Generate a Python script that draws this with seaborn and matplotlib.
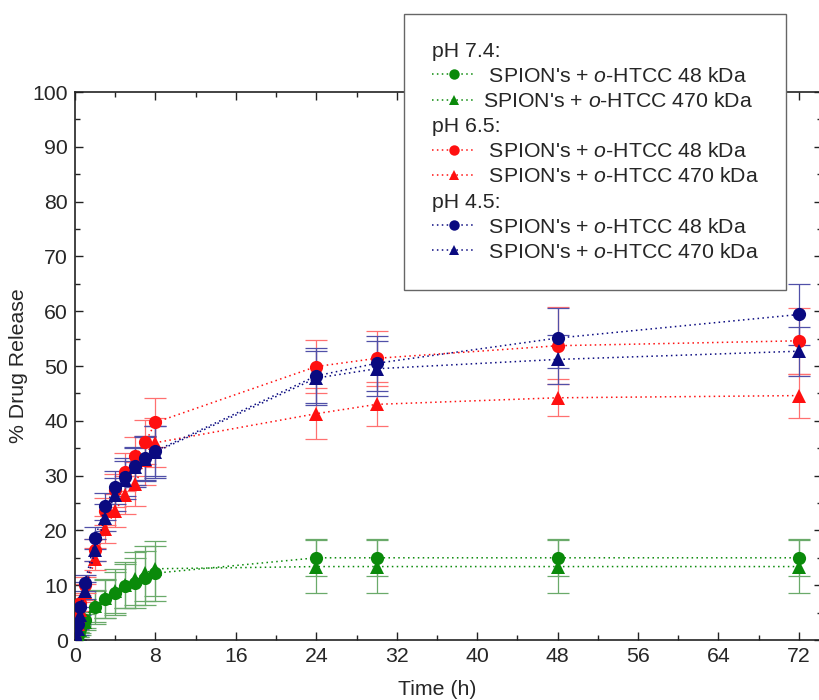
import matplotlib
matplotlib.use("Agg")
import matplotlib.pyplot as plt
import seaborn as sns
import pandas as pd
from matplotlib.lines import Line2D
from matplotlib.ticker import MultipleLocator

# ---------------- data ----------------
time_h = [0, 0.25, 0.5, 1, 2, 3, 4, 5, 6, 7, 8, 24, 30, 48, 72]

ph74_48 = [0, 1.0, 2.0, 3.6, 6.0, 7.5, 8.5, 9.8, 10.4, 11.3, 12.2, 15.0, 15.0, 15.0, 15.0]
ph74_470 = [0, 1.0, 1.8, 3.3, 6.2, 7.6, 9.0, 10.0, 11.2, 12.2, 13.0, 13.4, 13.4, 13.4, 13.4]
ph65_48 = [0, 3.5, 6.8, 10.0, 16.5, 23.5, 27.3, 30.7, 33.5, 36.1, 39.7, 49.9, 51.4, 53.7, 54.6]
ph65_470 = [0, 3.0, 5.5, 8.8, 14.7, 20.2, 23.6, 26.5, 28.5, 32.8, 36.0, 41.3, 43.0, 44.2, 44.6]
ph45_48 = [0, 3.0, 6.0, 10.4, 18.6, 24.4, 27.9, 29.8, 31.8, 33.2, 34.5, 48.2, 50.5, 55.1, 59.4]
ph45_470 = [0, 2.0, 4.5, 9.0, 16.4, 22.3, 26.5, 29.2, 31.5, 33.0, 34.3, 47.8, 49.5, 51.2, 52.7]

err74_48 = [0, 0.5, 0.8, 1.5, 3.0, 3.5, 4.0, 4.0, 4.5, 5.0, 5.0, 3.4, 3.4, 3.4, 3.4]
err74_470 = [0, 0.5, 0.8, 1.5, 3.0, 3.5, 4.0, 4.2, 4.8, 5.0, 5.0, 4.8, 4.8, 4.8, 4.8]
err65_48 = [0, 1.0, 1.5, 1.5, 2.0, 2.5, 3.0, 3.5, 3.5, 4.0, 4.5, 4.8, 5.0, 7.0, 6.0]
err65_470 = [0, 1.0, 1.5, 1.5, 2.0, 2.5, 3.0, 3.5, 4.0, 4.5, 4.5, 4.7, 4.0, 3.4, 4.0]
err45_48 = [0, 1.0, 1.5, 1.5, 2.0, 2.5, 3.0, 3.5, 3.5, 4.0, 4.5, 5.0, 5.0, 5.5, 5.6]
err45_470 = [0, 1.0, 1.5, 1.5, 2.0, 2.5, 3.0, 3.5, 3.5, 4.0, 4.8, 5.0, 5.0, 4.5, 4.5]

ph_headers = ["pH 7.4:", "pH 6.5:", "pH 4.5:"]
series_labels = [
    r" SPION's + $\it{o}$-HTCC 48 kDa",
    r"SPION's + $\it{o}$-HTCC 470 kDa",
    r" SPION's + $\it{o}$-HTCC 48 kDa",
    r" SPION's + $\it{o}$-HTCC 470 kDa",
    r" SPION's + $\it{o}$-HTCC 48 kDa",
    r" SPION's + $\it{o}$-HTCC 470 kDa",
]

# ---------------- style ----------------
sns.set_style("ticks")
plt.rcParams["font.family"] = ["Liberation Sans", "DejaVu Sans"]
plt.rcParams["mathtext.fontset"] = "custom"
plt.rcParams["mathtext.rm"] = "Liberation Sans"
plt.rcParams["mathtext.it"] = "Liberation Sans:italic"

FS = 15.3
green, red, navy = "#0a8a0a", "#ff1010", "#0a0a80"
green_e, red_e, navy_e = "#6aaa6a", "#ff7070", "#5050a8"

series = [
    (ph74_48, err74_48, green, green_e, "o"),
    (ph74_470, err74_470, green, green_e, "^"),
    (ph65_48, err65_48, red, red_e, "o"),
    (ph65_470, err65_470, red, red_e, "^"),
    (ph45_48, err45_48, navy, navy_e, "o"),
    (ph45_470, err45_470, navy, navy_e, "^"),
]

fig = plt.figure(figsize=(8.19, 7.0), dpi=100)
ax = fig.add_axes([75 / 819, 60 / 700, 747 / 819, 548 / 700])

dots = (0, (1, 2.2))
for i, (vals, errs, c, ce, m) in enumerate(series):
    df = pd.DataFrame({"t": time_h, "v": vals})
    ax.errorbar(time_h, vals, yerr=errs, fmt="none", ecolor=ce, elinewidth=0.9,
                capsize=8, capthick=0.9, zorder=2 + i * 0.1)
    sns.lineplot(data=df, x="t", y="v", ax=ax, color=c, linestyle=dots, linewidth=1.1,
                 marker=m, markersize=9.5, markeredgewidth=0, legend=False,
                 zorder=3 + i * 0.1)

ax.set_xlim(0, 74.3)
ax.set_ylim(0, 100)
ax.xaxis.set_major_locator(MultipleLocator(8))
ax.xaxis.set_minor_locator(MultipleLocator(4))
ax.yaxis.set_major_locator(MultipleLocator(10))
ax.yaxis.set_minor_locator(MultipleLocator(5))
ax.set_xticks(range(0, 73, 8))
ax.tick_params(which="both", direction="in", top=True, right=True, width=1.0,
               color="#222222", labelsize=FS)
ax.tick_params(which="major", length=6, pad=5)
ax.tick_params(which="minor", length=3.5)
for s in ax.spines.values():
    s.set_linewidth(1.2)
    s.set_color("#222222")
ax.set_xlabel("Time (h)", fontsize=FS)
ax.set_ylabel("% Drug Release", fontsize=FS)
ax.xaxis.set_label_coords(0.485, -0.073)
ax.yaxis.set_label_coords(-0.063, 0.5)

# ---------------- legend ----------------
handles, labels = [], []
for g in range(3):
    handles.append(Line2D([], [], linestyle="none"))
    labels.append(ph_headers[g])
    for k in range(2):
        vals, errs, c, ce, m = series[2 * g + k]
        handles.append(Line2D([], [], color=c, linestyle=dots, linewidth=1.1,
                              marker=m, markersize=7.5, markeredgewidth=0))
        labels.append(series_labels[2 * g + k])

HL, HTP = 2.1, 0.3
leg = fig.legend(handles, labels, loc="upper left", bbox_to_anchor=(404 / 819, 1 - 14 / 700),
                 fontsize=FS, frameon=True, fancybox=False, shadow=False,
                 handlelength=HL, handletextpad=HTP, labelspacing=0.29,
                 borderpad=1.3, borderaxespad=0)
leg.get_frame().set_edgecolor("#666666")
leg.get_frame().set_linewidth(1.0)
leg.get_frame().set_alpha(1)
shift = (HL + HTP) * FS * 100 / 72
for idx, t in enumerate(leg.get_texts()):
    if idx % 3 == 0:
        t.set_x(-shift)

fig.savefig("out.png", dpi=100)
